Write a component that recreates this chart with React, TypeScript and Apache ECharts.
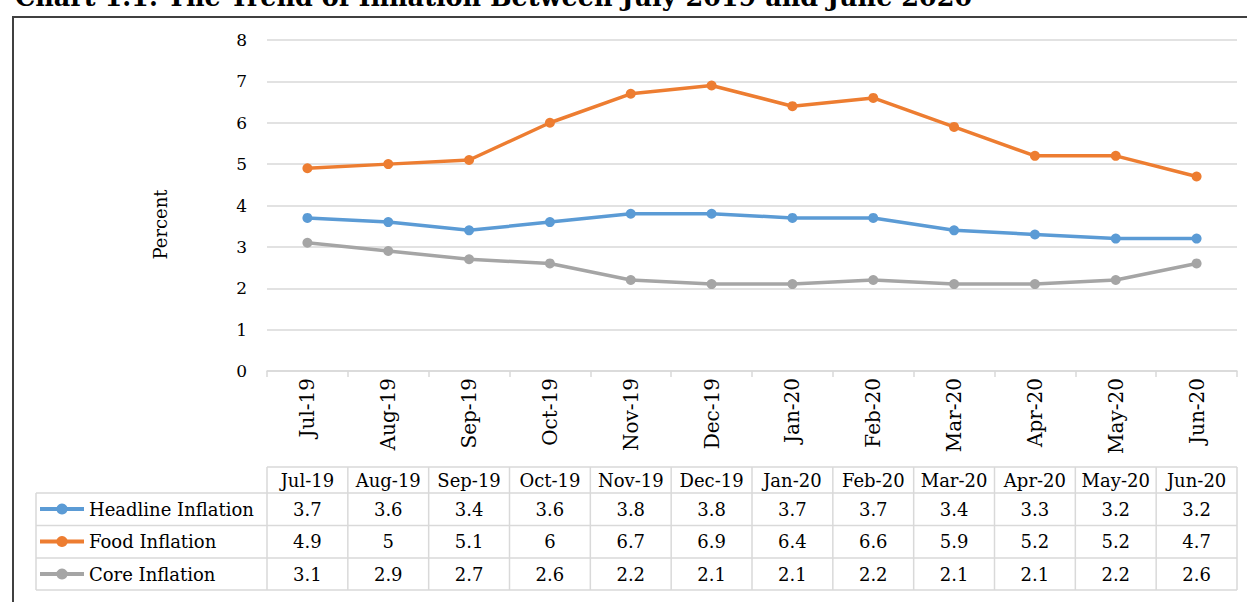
import React, { useEffect, useRef } from "react";
import * as echarts from "echarts";

const categories = ["Jul-19", "Aug-19", "Sep-19", "Oct-19", "Nov-19", "Dec-19", "Jan-20", "Feb-20", "Mar-20", "Apr-20", "May-20", "Jun-20"];
const headline = [3.7, 3.6, 3.4, 3.6, 3.8, 3.8, 3.7, 3.7, 3.4, 3.3, 3.2, 3.2];
const food = [4.9, 5, 5.1, 6, 6.7, 6.9, 6.4, 6.6, 5.9, 5.2, 5.2, 4.7];
const core = [3.1, 2.9, 2.7, 2.6, 2.2, 2.1, 2.1, 2.2, 2.1, 2.1, 2.2, 2.6];
const seriesNames = ["Headline Inflation", "Food Inflation", "Core Inflation"];
const seriesData = [headline, food, core];
const colors = ["#5B9BD5", "#ED7D31", "#A5A5A5"];
const title = "Chart 1.1: The Trend of Inflation Between July 2019 and June 2020";

const FONT = "'DejaVu Serif', serif";

export default function App() {
  const ref = useRef<HTMLDivElement>(null);
  useEffect(() => {
    document.body.style.margin = "0";
    const chart = echarts.init(ref.current!, undefined, { renderer: "svg" });
    const gridLeft = 267;
    const gridRight = 1237;
    const colW = (gridRight - gridLeft) / categories.length;
    const rowTops = [467, 493, 525.5, 558, 590];
    const lineColor = "#D9D9D9";
    const graphic: any[] = [];
    // title (cropped at the top edge, as in the source)
    graphic.push({
      type: "text",
      x: 15,
      y: 10,
      style: { text: title, font: `bold 25.5px ${FONT}`, fill: "#000", align: "left", verticalAlign: "bottom" },
    });
    // outer frame
    graphic.push({
      type: "rect",
      shape: { x: 13, y: 17, width: 1300, height: 700 },
      style: { fill: "none", stroke: "#404040", lineWidth: 2 },
    });
    // table lines
    graphic.push({ type: "line", shape: { x1: gridLeft, y1: rowTops[0], x2: gridRight, y2: rowTops[0] }, style: { stroke: lineColor, lineWidth: 1.5 } });
    for (let r = 1; r < rowTops.length; r++) {
      graphic.push({ type: "line", shape: { x1: 36, y1: rowTops[r], x2: gridRight, y2: rowTops[r] }, style: { stroke: lineColor, lineWidth: 1.5 } });
    }
    graphic.push({ type: "line", shape: { x1: 36, y1: rowTops[1], x2: 36, y2: rowTops[4] }, style: { stroke: lineColor, lineWidth: 1.5 } });
    for (let i = 0; i <= categories.length; i++) {
      const x = gridLeft + i * colW;
      graphic.push({ type: "line", shape: { x1: x, y1: rowTops[0], x2: x, y2: rowTops[4] }, style: { stroke: lineColor, lineWidth: 1.5 } });
    }
    categories.forEach((c, i) => {
      graphic.push({
        type: "text",
        x: gridLeft + (i + 0.5) * colW,
        y: (rowTops[0] + rowTops[1]) / 2,
        style: { text: c, font: `18px ${FONT}`, fill: "#000", align: "center", verticalAlign: "middle" },
      });
    });
    seriesData.forEach((arr, r) => {
      arr.forEach((v, i) => {
        graphic.push({
          type: "text",
          x: gridLeft + (i + 0.5) * colW,
          y: (rowTops[r + 1] + rowTops[r + 2]) / 2,
          style: { text: String(v), font: `18px ${FONT}`, fill: "#000", align: "center", verticalAlign: "middle" },
        });
      });
    });

    chart.setOption({
      animation: false,
      color: colors,
      textStyle: { fontFamily: FONT },
      grid: { left: gridLeft, right: 1247 - gridRight, top: 40, bottom: 231, containLabel: false },
      legend: {
        orient: "vertical",
        left: 38,
        top: 500,
        padding: 0,
        itemWidth: 44,
        itemHeight: 14,
        itemGap: 14.5,
        data: seriesNames,
        lineStyle: { width: 4 },
        textStyle: { fontFamily: FONT, fontSize: 18, color: "#000", lineHeight: 18 },
      },
      xAxis: {
        type: "category",
        data: categories,
        boundaryGap: true,
        axisLine: { lineStyle: { color: lineColor, width: 1.5 } },
        axisTick: { show: true, length: 6, lineStyle: { color: lineColor, width: 1.5 } },
        axisLabel: { rotate: 90, margin: 7, fontSize: 20, color: "#000", fontFamily: FONT, interval: 0 },
      },
      yAxis: {
        type: "value",
        min: 0,
        max: 8,
        interval: 1,
        name: "Percent",
        nameLocation: "middle",
        nameRotate: 90,
        nameGap: 98,
        nameTextStyle: { fontSize: 18, color: "#000", fontFamily: FONT, padding: [0, 38, 0, 0] },
        axisLine: { show: false },
        axisTick: { show: false },
        axisLabel: { margin: 20, fontSize: 17, color: "#000", fontFamily: FONT },
        splitLine: { lineStyle: { color: lineColor, width: 1.5 } },
      },
      graphic,
      series: seriesNames.map((n, k) => ({
        name: n,
        type: "line",
        data: seriesData[k],
        symbol: "circle",
        symbolSize: 10,
        lineStyle: { width: 3.5 },
        itemStyle: { color: colors[k] },
      })),
    });
    return () => chart.dispose();
  }, []);
  return <div ref={ref} style={{ width: 1247, height: 602 }} />;
}
